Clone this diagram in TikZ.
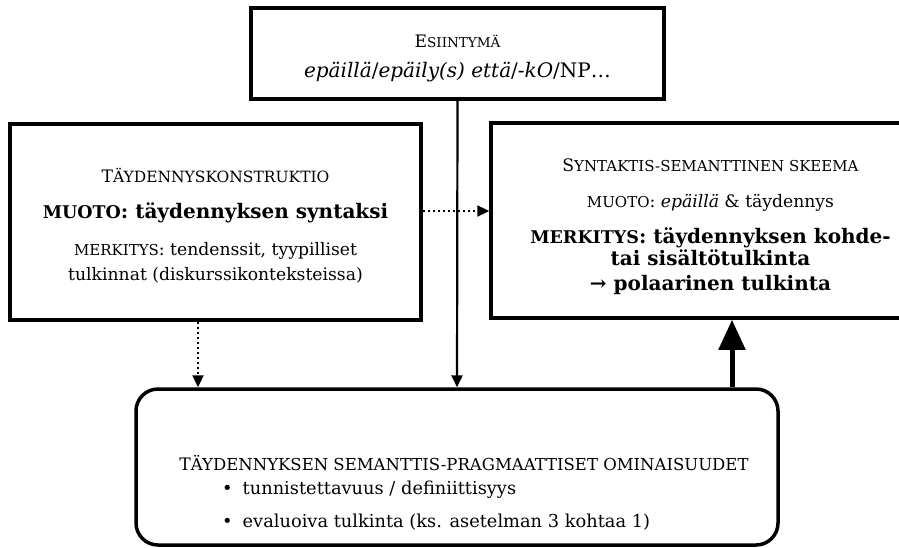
\documentclass[tikz,border=0pt]{standalone}
\usepackage{fontspec}
\setmainfont{DejaVu Serif}
\usetikzlibrary{arrows.meta}

% fake small caps
\newcommand\fsc[2][15]{{\fontsize{#1}{24}\selectfont #2}}
\newcommand\bigb[1]{{\fontsize{20}{24}\selectfont\bfseries #1}}

\tikzset{
  box/.style={draw, line width=3.5pt, inner sep=0pt},
  boxtext/.style={align=center, inner sep=0pt, font=\fontsize{17.2}{24}\selectfont},
  link/.style={line width=2.2pt, -{Triangle[width=11pt,length=12pt]}},
  hint/.style={link, dash pattern=on 2.5pt off 2.5pt},
  push/.style={line width=5pt, -{Triangle[width=26pt,length=30pt]}}
}

\begin{document}
\begin{tikzpicture}[x=1pt,y=-1pt]
    \clip (0,0) rectangle (899,547);

    % Boxes
    \node[box, minimum width=413pt, minimum height=91pt] (token) at (457.5,53.5) {};
    \node[box, minimum width=411pt, minimum height=196pt] (constr) at (215.5,222) {};
    \node[box, minimum width=439pt, minimum height=195pt] (schema) at (710.5,220.5) {};
    \node[box, rounded corners=22pt, minimum width=642pt, minimum height=156pt] (props) at (457,467) {};

    % Box texts
    \node[boxtext] (tokentext) at ([yshift=-5pt]token.center)
      {E\fsc[13.5]{SIINTYMÄ}\\[6pt]
       {\fontsize{20}{24}\selectfont\textit{epäillä}/\textit{epäily(s) että}/\textit{-kO}/NP…}};
    \node[boxtext] (constrtext) at ([yshift=-4pt]constr.center)
      {T\fsc[15.5]{ÄYDENNYSKONSTRUKTIO}\\[12pt]
       \bigb{\fsc[17.5]{MUOTO}: täydennyksen syntaksi}\\[13pt]
       \fsc{MERKITYS}: tendenssit, tyypilliset\\[1pt]
       tulkinnat (diskurssikonteksteissa)};
    \node[boxtext] (schematext) at ([yshift=-6pt]schema.center)
      {S\fsc{YNTAKTIS-SEMANTTINEN SKEEMA}\\[12pt]
       \fsc{MUOTO}: \textit{epäillä} \& täydennys\\[12pt]
       \bigb{\fsc[17.5]{MERKITYS}: täydennyksen kohde-}\\[-2pt]
       \bigb{tai sisältötulkinta}\\[1pt]
       \bigb{→ polaarinen tulkinta}};
    \node[boxtext] (propstitle) at (464,463)
      {T\fsc[16.5]{ÄYDENNYKSEN SEMANTTIS-PRAGMAATTISET OMINAISUUDET}};
    \node[boxtext, font=\fontsize{17.8}{24}\selectfont, anchor=west] (item1) at (222,490)
      {•\hspace{10pt}tunnistettavuus / definiittisyys};
    \node[boxtext, font=\fontsize{17.8}{24}\selectfont, anchor=west] (item2) at (222,522)
      {•\hspace{10pt}evaluoiva tulkinta (ks. asetelman 3 kohtaa 1)};

    % Connectors
    \draw[link] (token.south) -- (props.north);
    \draw[hint] (constr.east |- 0,211) -- (schema.west |- 0,211);
    \draw[hint] (constr.south -| 198,0) -- (props.north -| 198,0);
    \draw[push] (props.north -| 732,0) -- (schema.south -| 732,0);
\end{tikzpicture}
\end{document}
